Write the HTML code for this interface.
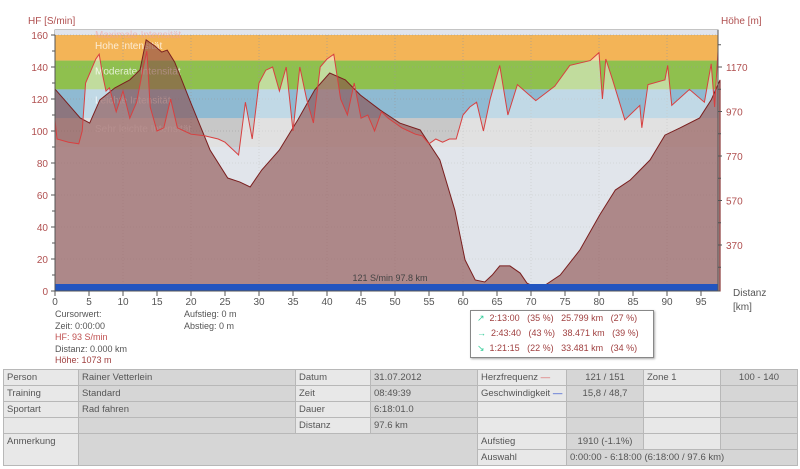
<!DOCTYPE html>
<html><head><meta charset="utf-8"><style>
body{margin:0;width:800px;height:469px;background:#fff;font-family:"Liberation Sans",sans-serif;overflow:hidden;position:relative}
svg{position:absolute;left:0;top:0}
.t{font-size:10px;fill:#b05050}
.k{font-size:10px;fill:#555}
table{position:absolute;left:3px;top:369px;border-collapse:collapse;font-size:9.5px;color:#555;table-layout:fixed;width:794px}
td{border:1px solid #b8b8b8;padding:0 3px;height:15px;line-height:15px;background:#d6d6d6;white-space:nowrap;overflow:hidden}
td.l{background:#e8e8e8}
</style></head><body>
<svg width="800" height="469" id="chart"></svg>
<div style="position:absolute;left:55px;top:309px;font-size:9px;color:#555;line-height:11.5px">Cursorwert:<br>Zeit: 0:00:00<br><span style="color:#c05050">HF: 93 S/min</span><br>Distanz: 0.000 km<br><span style="color:#a04040">Höhe: 1073 m</span></div>
<div style="position:absolute;left:184px;top:309px;font-size:9px;color:#555;line-height:11.5px">Aufstieg: 0 m<br>Abstieg: 0 m</div>
<div style="position:absolute;left:470px;top:310px;width:176px;height:46px;border:1px solid #888;box-shadow:1px 1px 2px #aaa;font-size:9px;color:#a04040;line-height:15px;padding-left:6px">
<div><span style="color:#3c9">↗</span>&nbsp; 2:13:00 &nbsp; (35 %) &nbsp; 25.799 km &nbsp; (27 %)</div>
<div><span style="color:#3c9">→</span>&nbsp; 2:43:40 &nbsp; (43 %) &nbsp; 38.471 km &nbsp; (39 %)</div>
<div><span style="color:#3c9">↘</span>&nbsp; 1:21:15 &nbsp; (22 %) &nbsp; 33.481 km &nbsp; (34 %)</div></div>
<table>
<colgroup><col style="width:75px"><col style="width:217px"><col style="width:75px"><col style="width:107px"><col style="width:89px"><col style="width:77px"><col style="width:77px"><col style="width:77px"></colgroup>
<tr><td class="l">Person</td><td>Rainer Vetterlein</td><td class="l">Datum</td><td>31.07.2012</td><td class="l">Herzfrequenz <span style="color:#d66">—</span></td><td style="text-align:center">121 / 151</td><td class="l">Zone 1</td><td style="text-align:center">100 - 140</td></tr>
<tr><td class="l">Training</td><td>Standard</td><td class="l">Zeit</td><td>08:49:39</td><td class="l">Geschwindigkeit <span style="color:#24c">—</span></td><td style="text-align:center">15,8 / 48,7</td><td class="l"></td><td></td></tr>
<tr><td class="l">Sportart</td><td>Rad fahren</td><td class="l">Dauer</td><td>6:18:01.0</td><td class="l"></td><td></td><td class="l"></td><td></td></tr>
<tr><td class="l"></td><td></td><td class="l">Distanz</td><td>97.6 km</td><td class="l"></td><td></td><td class="l"></td><td></td></tr>
<tr><td class="l" rowspan="2" style="vertical-align:top">Anmerkung</td><td colspan="3" rowspan="2"></td><td class="l">Aufstieg</td><td style="text-align:center">1910 (-1.1%)</td><td class="l"></td><td></td></tr>
<tr><td class="l">Auswahl</td><td colspan="3">0:00:00 - 6:18:00 (6:18:00 / 97.6 km)</td></tr>
</table>
<script>
const elevKm=[0,1.8,3.7,5.1,6.6,8.8,11,12.5,13.4,14.7,15.7,16.5,17.6,19.8,22.8,25.4,27.2,28.7,30.4,33,35.7,38.2,40.4,42.7,44.9,47.8,50.7,53.7,56.6,58.8,60.3,61.8,63.2,64.3,65.4,66.9,68.4,69.4,70.6,72.1,74.3,77.2,80.1,82.4,84.6,87.5,89.7,91.9,94.8,96.5,97.8];
const elevM=[1071,1008,941,918,1022,1076,1112,1157,1292,1264,1237,1246,1192,1022,797,671,653,631,707,797,932,1067,1143,1112,1044,977,918,887,752,527,303,213,204,235,276,276,244,199,181,190,235,348,505,617,662,752,864,896,941,1022,1112];
const hrKm=[0,0.3,2,3.5,4,4.5,5,6,6.5,7,7.5,8,9,10,11,12,13,13.5,14,15,16,17,18,19,20,22,24,25,27,28,29,30,31,32,33,34,35,36,37,38,39,40,41,42,43,44,45,46,47,48,49,50,51,52,53,54,55,56,57,58,59,60,61,62,63,64,65.4,66.6,68,70.7,73.5,75.7,78.7,80,80.5,81,82,83.8,86,86.3,87.2,89.7,90.1,90.7,93.3,95.5,96.5,97,97.5];
const hrVal=[107,95,93,92,100,130,135,145,148,135,125,127,112,125,108,118,140,150,115,100,102,120,102,100,98,97,95,93,85,118,95,130,138,140,125,140,100,140,120,105,140,145,148,120,110,130,108,110,100,112,108,105,102,100,98,97,92,95,93,95,95,110,115,118,100,120,141,110,129,119,128,141,144,149,120,145,132,107,116,102,129,132,141,116,126,118,142,115,150];
const yTicksL=[0,20,40,60,80,100,120,140,160];
const yTicksR=[370,570,770,970,1170];
const xTicks=[0,5,10,15,20,25,30,35,40,45,50,55,60,65,70,75,80,85,90,95];
const zoneLo=[144,126,108,90], zoneHi=[160,144,126,108];
const zoneCol=['#f3b457','#8fc04e','#8fbad2','#c8c8c8'];
const zoneName=['Hohe Intensität','Moderate Intensität','Leichte Intensität','Sehr leichte Intensität'];
const svg=document.getElementById('chart');const NS='http://www.w3.org/2000/svg';
const X=k=>55+k*6.8, Y=v=>291-v*1.6, YA=a=>67+(1170-a)*0.2225;
const PL=55,PR=718,PT=35,PB=291;
function mk(t,a,p){const e=document.createElementNS(NS,t);for(const k in a)e.setAttribute(k,a[k]);(p||svg).appendChild(e);return e}
let e=mk('rect',{x:PL,y:30,width:PR-PL,height:PB-30,fill:'#c9cfdb',stroke:'#888'});


mk('rect',{x:PL,y:30,width:PR-PL,height:5,fill:'#e0e4ec'});
zoneLo.forEach((lo,i)=>{const r=mk('rect',{x:PL,y:Y(zoneHi[i]),width:PR-PL,height:Y(lo)-Y(zoneHi[i]),fill:zoneCol[i]});


const t=mk('text',{x:95,y:Y(zoneHi[i])+14,fill:'#fff','font-size':'10','fill-opacity':'0.75'});t.textContent=zoneName[i];});
const maxLbl=mk('text',{x:95,y:38,fill:'#f0a0a0','font-size':'10','fill-opacity':'0.6'});maxLbl.textContent='Maximale Intensität';
xTicks.forEach(k=>{if(k%10==0&&k>0)mk('line',{x1:X(k),x2:X(k),y1:PT,y2:PB,stroke:'#999','stroke-dasharray':'1,2','stroke-opacity':'.6'})});
yTicksL.forEach(v=>{mk('line',{x1:PL,x2:PR,y1:Y(v),y2:Y(v),stroke:'#999','stroke-dasharray':'1,2','stroke-opacity':'.5'})});
let d='M'+X(hrKm[0])+','+PB;hrKm.forEach((k,i)=>d+='L'+X(k)+','+Y(hrVal[i]));d+='L'+X(hrKm[hrKm.length-1])+','+PB+'Z';
e=mk('path',{d:d,fill:'#fff','fill-opacity':'0.45'});


d='M'+X(elevKm[0])+','+PB;elevKm.forEach((k,i)=>d+='L'+X(k)+','+YA(elevM[i]));d+='L'+X(elevKm[elevKm.length-1])+','+PB+'Z';
e=mk('path',{d:d,fill:'#8a4a48','fill-opacity':'0.6',stroke:'#7a1f1f','stroke-width':'1'});


d='';hrKm.forEach((k,i)=>d+=(i?'L':'M')+X(k)+','+Y(hrVal[i]));
e=mk('path',{d:d,fill:'none',stroke:'#d84040','stroke-width':'1'});


e=mk('rect',{x:PL,y:284,width:PR-PL,height:7,fill:'#2255c0'});


e=mk('text',{x:390,y:281,'font-size':'9',fill:'#444','text-anchor':'middle'});e.textContent='121 S/min 97.8 km';
mk('line',{x1:PL,x2:PL,y1:PT,y2:PB,stroke:'#555'});mk('line',{x1:PL,x2:PR+2,y1:PB,y2:PB,stroke:'#555'});mk('line',{x1:PR,x2:PR,y1:30,y2:PB,stroke:'#555'});
yTicksL.forEach(v=>{mk('line',{x1:PL-4,x2:PL,y1:Y(v),y2:Y(v),stroke:'#555'});if(v<160)mk('line',{x1:PL-3,x2:PL,y1:Y(v+10),y2:Y(v+10),stroke:'#555'});
const t=mk('text',{x:PL-7,y:Y(v)+4,class:'t','text-anchor':'end'});t.textContent=v;

});
yTicksR.forEach(a=>{mk('line',{x1:PR,x2:PR+4,y1:YA(a),y2:YA(a),stroke:'#555'});mk('line',{x1:PR,x2:PR+3,y1:YA(a+100),y2:YA(a+100),stroke:'#555'});
const t=mk('text',{x:PR+8,y:YA(a)+4,class:'t'});t.textContent=a;});
mk('line',{x1:PR,x2:PR+3,y1:YA(270),y2:YA(270),stroke:'#555'});
xTicks.forEach(k=>{mk('line',{x1:X(k),x2:X(k),y1:PB,y2:PB+5,stroke:'#555'});
const t=mk('text',{x:X(k),y:PB+14,class:'k','text-anchor':'middle'});t.textContent=k;});
let t=mk('text',{x:28,y:24,class:'t'});t.textContent='HF [S/min]';


t=mk('text',{x:721,y:24,class:'t'});t.textContent='Höhe [m]';


t=mk('text',{x:733,y:296,class:'k'});t.textContent='Distanz';t=mk('text',{x:733,y:310,class:'k'});t.textContent='[km]';
</script>
</body></html>
